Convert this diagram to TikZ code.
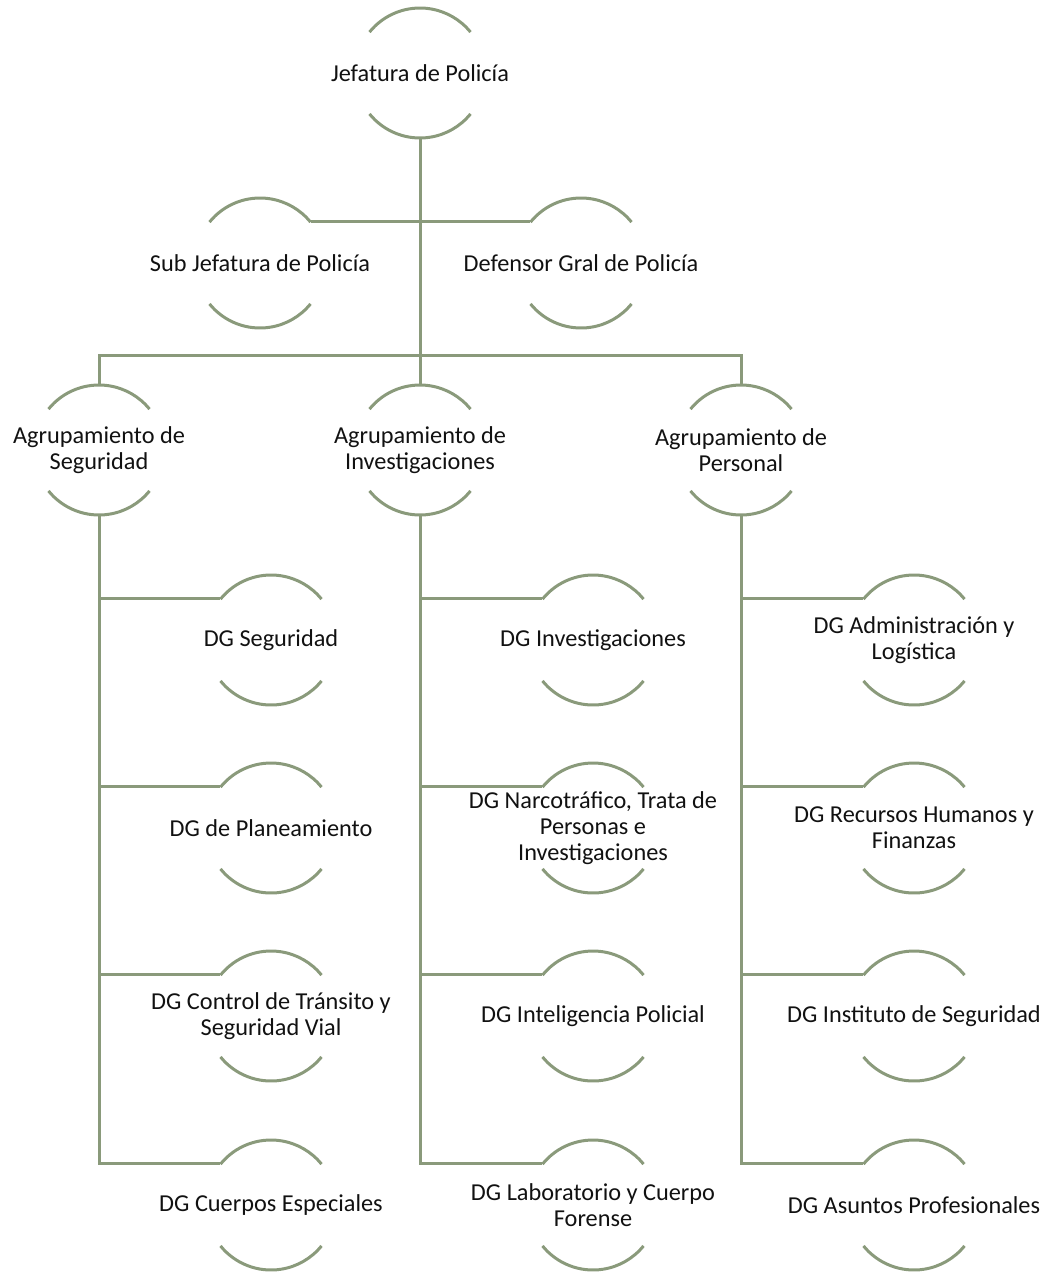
\documentclass[tikz,border=0pt]{standalone}
\usepackage{fontspec}
\setmainfont{Carlito}
\definecolor{lineol}{HTML}{8A9A7B}
\definecolor{txt}{HTML}{111111}
\begin{document}
\begin{tikzpicture}[x=1pt,y=1pt,
  cnode/.style={circle,minimum size=130pt,inner sep=0pt,draw=none},
  lbl/.style={text=txt,font=\fontsize{24.3}{26}\selectfont,align=center,inner sep=0pt},
  conn/.style={draw=lineol,line width=3pt},
  arcs/.style={draw=lineol,line width=3pt}]
\useasboundingbox (0,0) rectangle (1057,-1272);
\newcommand\circnode[4]{%
  \node[cnode,label={[lbl]center:{#4}}] (#1) at (#2,-#3) {};
  \draw[arcs] ([shift={(141:65pt)}]#1.center) arc[start angle=141,end angle=39,radius=65pt];
  \draw[arcs] ([shift={(-141:65pt)}]#1.center) arc[start angle=-141,end angle=-39,radius=65pt];
}
\circnode{j}{420}{73}{Jefatura de Policía}
\circnode{sub}{260}{263}{Sub Jefatura de Policía}
\circnode{def}{581}{263}{Defensor Gral de Policía}
\circnode{ag1}{99}{450}{Agrupamiento de\\Seguridad}
\circnode{ag2}{420}{450}{Agrupamiento de\\Investigaciones}
\circnode{ag3}{741}{450}{Agrupamiento de\\Personal}
\circnode{a1}{271}{640}{DG Seguridad}
\circnode{a2}{271}{828}{DG de Planeamiento}
\circnode{a3}{271}{1016}{DG Control de Tránsito y\\Seguridad Vial}
\circnode{a4}{271}{1205}{DG Cuerpos Especiales}
\circnode{b1}{593}{640}{DG Investigaciones}
\circnode{b2}{593}{828}{DG Narcotráfico, Trata de\\Personas e\\Investigaciones}
\circnode{b3}{593}{1016}{DG Inteligencia Policial}
\circnode{b4}{593}{1205}{DG Laboratorio y Cuerpo\\Forense}
\circnode{c1}{914}{640}{DG Administración y\\Logística}
\circnode{c2}{914}{828}{DG Recursos Humanos y\\Finanzas}
\circnode{c3}{914}{1016}{DG Instituto de Seguridad}
\circnode{c4}{914}{1205}{DG Asuntos Profesionales}
\coordinate (bar) at (420,-355);
% top level
\draw[conn] (j.south) -- (ag2.north);
\draw[conn] (sub.39) -- (def.141);
\draw[conn] (ag1.north) -- (ag1.north |- bar) -- (ag3.north |- bar) -- (ag3.north);
% columns
\draw[conn] (ag1.south) |- (a4.141);
\draw[conn] (ag1.south |- a1.141) -- (a1.141);
\draw[conn] (ag1.south |- a2.141) -- (a2.141);
\draw[conn] (ag1.south |- a3.141) -- (a3.141);
\draw[conn] (ag2.south) |- (b4.141);
\draw[conn] (ag2.south |- b1.141) -- (b1.141);
\draw[conn] (ag2.south |- b2.141) -- (b2.141);
\draw[conn] (ag2.south |- b3.141) -- (b3.141);
\draw[conn] (ag3.south) |- (c4.141);
\draw[conn] (ag3.south |- c1.141) -- (c1.141);
\draw[conn] (ag3.south |- c2.141) -- (c2.141);
\draw[conn] (ag3.south |- c3.141) -- (c3.141);
\end{tikzpicture}
\end{document}
